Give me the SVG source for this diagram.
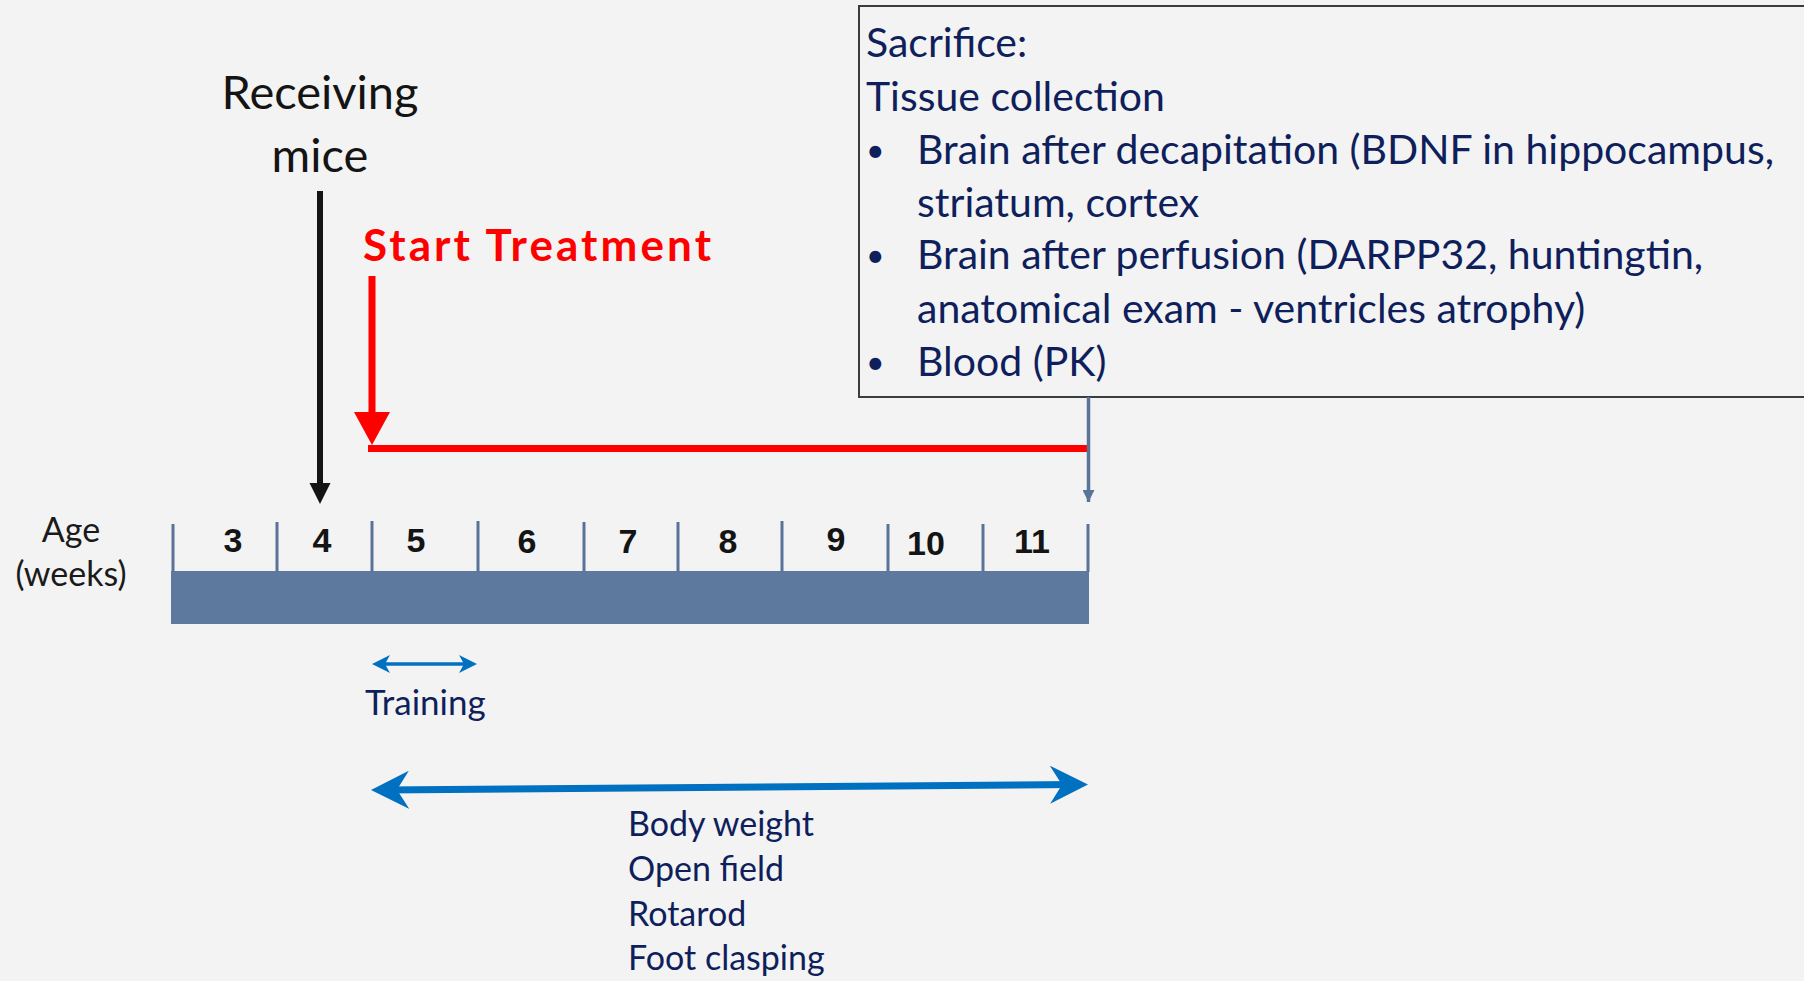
<svg xmlns="http://www.w3.org/2000/svg" width="1804" height="981" viewBox="0 0 1804 981">
<style>
.hum{font-family:Lato,"Open Sans","DejaVu Sans",sans-serif}
.navy{fill:#0f1f5c}
.num{font-family:"Liberation Sans Narrow","Liberation Sans",Arial,sans-serif;font-weight:bold;font-size:34px;fill:#141414;text-anchor:middle}
.tick{stroke:#5a7399;stroke-width:3}
.box{font-size:41px}
.bullet{font-size:32px}
.blue{stroke:#0070c0;fill:none}
</style>
<defs>
<marker id="stealthBig" markerUnits="userSpaceOnUse" viewBox="0 0 38 38" refX="24" refY="19" markerWidth="38" markerHeight="38" orient="auto-start-reverse">
<path d="M0,0 L38,19 L0,38 L12,19 Z" fill="#0070c0"/>
</marker>
<marker id="stealthSmall" markerUnits="userSpaceOnUse" viewBox="0 0 18 18" refX="12" refY="9" markerWidth="18" markerHeight="18" orient="auto-start-reverse">
<path d="M0,0 L18,9 L0,18 L5,9 Z" fill="#0070c0"/>
</marker>
<marker id="slateHead" markerUnits="userSpaceOnUse" viewBox="0 0 12 12" refX="12" refY="6" markerWidth="12" markerHeight="12" orient="auto">
<path d="M0,0 L12,6 L0,12 Z" fill="#5a7399"/>
</marker>
</defs>
<rect width="1804" height="981" fill="#f3f3f3"/>

<g id="timeline">
<rect x="171" y="571" width="918" height="53" fill="#5e799e"/>
<line class="tick" x1="173" y1="524" x2="173" y2="572"/>
<line class="tick" x1="277" y1="522" x2="277" y2="572"/>
<line class="tick" x1="372" y1="521" x2="372" y2="572"/>
<line class="tick" x1="478" y1="521" x2="478" y2="572"/>
<line class="tick" x1="584" y1="522" x2="584" y2="572"/>
<line class="tick" x1="678" y1="522" x2="678" y2="572"/>
<line class="tick" x1="782" y1="521" x2="782" y2="572"/>
<line class="tick" x1="888" y1="524" x2="888" y2="572"/>
<line class="tick" x1="983" y1="524" x2="983" y2="572"/>
<line class="tick" x1="1088" y1="524" x2="1088" y2="572"/>
<text class="num" x="233" y="552">3</text>
<text class="num" x="322" y="552">4</text>
<text class="num" x="416" y="552">5</text>
<text class="num" x="527" y="553">6</text>
<text class="num" x="628" y="553">7</text>
<text class="num" x="728" y="553">8</text>
<text class="num" x="836" y="551">9</text>
<text class="num" x="926" y="555">10</text>
<text class="num" x="1032" y="553">11</text>
</g>

<g id="age-label" class="hum" font-size="34" fill="#1a1a1a" text-anchor="middle">
<text x="71" y="542">Age</text>
<text x="71" y="586">(weeks)</text>
</g>

<g id="receiving-mice" class="hum" font-size="47" fill="#141414" text-anchor="middle">
<text x="320" y="109">Receiving</text>
<text x="320" y="172">mice</text>
</g>

<g id="start-treatment">
<text class="hum" x="363" y="261" font-size="44" font-weight="bold" fill="#ff0000" textLength="348" lengthAdjust="spacing">Start Treatment</text>
</g>

<g id="sacrifice-box">
<rect x="859" y="6" width="960" height="391" fill="none" stroke="#3a3d40" stroke-width="2"/>
<g class="hum navy box">
<text x="866" y="57">Sacrifice:</text>
<text x="866" y="111">Tissue collection</text>
<text class="bullet" x="866" y="162">•</text>
<text x="917" y="164">Brain after decapitation (BDNF in hippocampus,</text>
<text x="917" y="217">striatum, cortex</text>
<text class="bullet" x="866" y="267">•</text>
<text x="917" y="269">Brain after perfusion (DARPP32, huntingtin,</text>
<text x="917" y="323">anatomical exam - ventricles atrophy)</text>
<text class="bullet" x="866" y="374">•</text>
<text x="917" y="376">Blood (PK)</text>
</g>
</g>

<g id="training-label" class="hum navy" font-size="35">
<text x="365" y="715">Training</text>
</g>

<g id="assessments" class="hum navy" font-size="34">
<text x="628" y="836">Body weight</text>
<text x="628" y="881">Open field</text>
<text x="628" y="926">Rotarod</text>
<text x="628" y="970">Foot clasping</text>
</g>

<g id="connectors">
<line x1="320" y1="191" x2="320" y2="485" stroke="#141414" stroke-width="6"/>
<path d="M309.5,483 L330.5,483 L320,504 Z" fill="#141414"/>
<line x1="372" y1="276" x2="372" y2="414" stroke="#ff0000" stroke-width="7"/>
<path d="M354,412 L390,412 L372,445 Z" fill="#ff0000"/>
<line x1="368" y1="448.5" x2="1087" y2="448.5" stroke="#ff0000" stroke-width="7"/>
<line x1="1088.5" y1="397" x2="1088.5" y2="502" stroke="#5a7399" stroke-width="3.5" marker-end="url(#slateHead)"/>
<line class="blue" x1="378" y1="664" x2="471" y2="664" stroke-width="3.5" marker-start="url(#stealthSmall)" marker-end="url(#stealthSmall)"/>
<line class="blue" x1="385" y1="789.9" x2="1074" y2="784.6" stroke-width="7" marker-start="url(#stealthBig)" marker-end="url(#stealthBig)"/>
</g>
</svg>
